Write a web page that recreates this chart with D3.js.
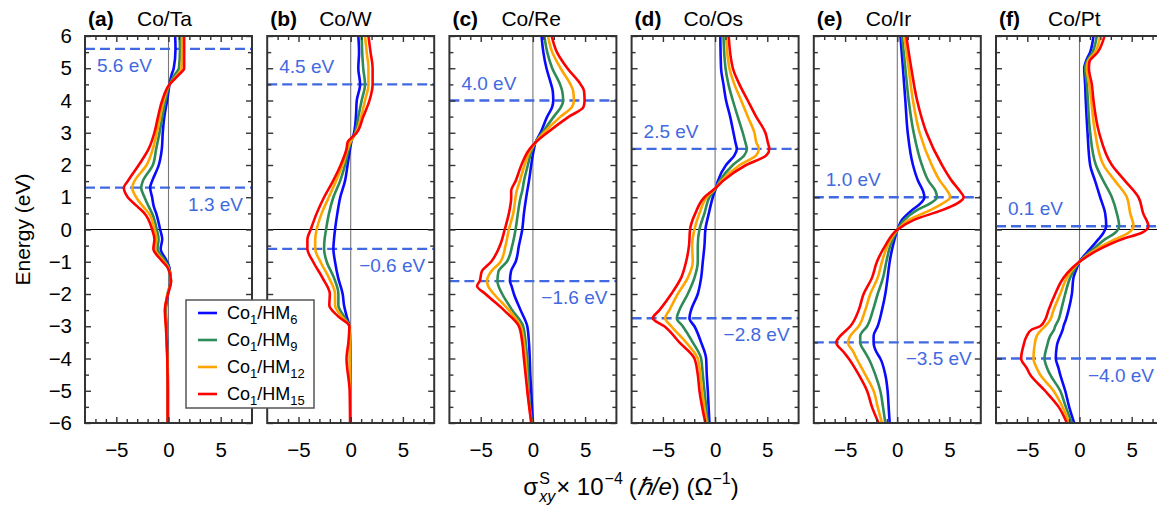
<!DOCTYPE html>
<html>
<head>
<meta charset="utf-8">
<script src="https://cdn.jsdelivr.net/npm/d3@7"></script>
<style>
  body { margin: 0; background: #fff; }
  svg { font-family: "Liberation Sans", Arial, sans-serif; }
</style>
</head>
<body>
<svg id="chart" width="1157" height="507"></svg>
<script>
// panel titles
var panelTags = ["(a)", "(b)", "(c)", "(d)", "(e)", "(f)"];
var panelNames = ["Co/Ta", "Co/W", "Co/Re", "Co/Os", "Co/Ir", "Co/Pt"];
// legend: Co1/HM_n
var layerCounts = ["6", "9", "12", "15"];

// Co/Ta  (energy in eV, sigma in 1e4 hbar/e Ohm^-1)
var taE  = [6, 5.6, 5.0, 4.8, 4.5, 4.0, 3.5, 3.0, 2.5, 2.0, 1.5, 1.3, 1.0, 0.7, 0.5, 0.0, -0.3, -0.6, -0.95, -1.2, -1.6, -2.0, -2.5, -3.0, -4.0, -5.0, -6.0];
var ta6  = [0.64, 0.67, 0.5, 0.3, 0.1, -0.13, -0.4, -0.55, -0.64, -0.93, -1.57, -1.76, -1.57, -1.4, -1.18, -0.8, -0.6, -0.75, -0.22, 0.1, 0.2, -0.05, -0.25, -0.2, -0.1, -0.06, -0.06];
var ta9  = [1.05, 1.1, 1.0, 0.6, 0.1, -0.29, -0.58, -0.86, -1.18, -1.5, -2.46, -2.62, -2.3, -1.88, -1.57, -1.12, -0.95, -1.05, -0.38, 0.05, 0.22, -0.1, -0.3, -0.22, -0.1, -0.06, -0.06];
var ta12 = [1.3, 1.3, 1.25, 0.85, 0.1, -0.45, -0.8, -1.12, -1.5, -2.1, -3.26, -3.48, -3.1, -2.4, -1.88, -1.34, -1.15, -1.3, -0.55, 0.0, 0.24, -0.08, -0.32, -0.24, -0.11, -0.07, -0.07];
var ta15 = [1.5, 1.5, 1.5, 1.0, 0.1, -0.6, -1.0, -1.35, -1.9, -2.85, -3.9, -4.28, -3.9, -2.94, -2.3, -1.57, -1.35, -1.45, -0.7, -0.05, 0.25, -0.05, -0.35, -0.25, -0.12, -0.08, -0.08];

// Co/W
var wE  = [6, 5.5, 5.0, 4.5, 4.0, 3.5, 3.0, 2.7, 2.5, 2.0, 1.5, 1.0, 0.5, 0.0, -0.3, -0.6, -1.0, -1.5, -2.0, -2.35, -2.7, -3.0, -3.5, -4.0, -5.0, -6.0];
var w6  = [0.73, 0.8, 0.73, 0.9, 0.58, 0.5, 0.32, 0.05, -0.06, -0.3, -0.55, -1.0, -1.28, -1.5, -1.6, -1.66, -1.5, -1.2, -0.77, -0.64, -0.38, -0.13, -0.06, -0.05, -0.03, -0.03];
var w9  = [1.05, 1.1, 1.2, 1.37, 1.05, 0.73, 0.42, 0.0, -0.19, -0.54, -1.02, -1.66, -2.08, -2.36, -2.5, -2.55, -2.3, -1.6, -1.18, -1.18, -0.64, -0.13, -0.06, -0.05, -0.03, -0.03];
var w12 = [1.37, 1.53, 1.7, 1.7, 1.37, 1.0, 0.51, -0.05, -0.29, -0.77, -1.41, -2.1, -2.78, -3.26, -3.4, -3.4, -2.9, -2.08, -1.5, -1.5, -0.86, -0.13, -0.1, -0.1, -0.05, -0.03];
var w15 = [1.7, 1.9, 2.1, 2.1, 1.8, 1.2, 0.58, -0.3, -0.4, -0.96, -1.7, -2.55, -3.26, -3.83, -4.15, -4.15, -3.6, -2.7, -2.0, -2.05, -1.18, -0.13, -0.22, -0.4, -0.1, -0.06];

// Co/Re
var reE  = [6, 5.5, 5.0, 4.5, 4.3, 4.0, 3.8, 3.5, 3.0, 2.7, 2.5, 2.0, 1.5, 1.2, 1.0, 0.5, 0.0, -0.5, -1.0, -1.3, -1.6, -1.75, -2.0, -2.5, -3.0, -3.5, -4.0, -4.5, -5.0, -6.0];
var re6  = [0.83, 1.0, 1.3, 1.75, 1.9, 1.95, 1.85, 1.37, 0.73, 0.25, 0.1, -0.16, -0.38, -0.54, -0.64, -0.86, -1.02, -1.34, -1.65, -2.1, -2.2, -2.05, -1.82, -1.18, -0.54, -0.38, -0.3, -0.25, -0.16, 0.0];
var re9  = [1.1, 1.37, 1.85, 2.6, 2.8, 2.9, 2.7, 2.0, 0.9, 0.25, -0.06, -0.48, -0.86, -1.02, -1.18, -1.44, -1.66, -1.98, -2.5, -3.3, -3.4, -3.3, -2.94, -1.98, -0.93, -0.7, -0.54, -0.45, -0.4, -0.1];
var re12 = [1.44, 1.85, 2.65, 3.6, 3.85, 3.93, 3.75, 2.65, 1.05, 0.25, -0.16, -0.8, -1.25, -1.55, -1.66, -1.88, -2.3, -2.62, -3.1, -4.0, -4.4, -4.3, -3.74, -2.3, -1.18, -0.86, -0.7, -0.6, -0.5, -0.13];
var re15 = [1.8, 2.3, 3.3, 4.57, 4.9, 4.95, 4.85, 3.45, 1.37, 0.25, -0.3, -1.1, -1.66, -2.08, -2.08, -2.3, -2.7, -3.16, -4.0, -4.9, -5.1, -5.35, -4.54, -2.78, -1.34, -1.02, -0.86, -0.7, -0.54, -0.16];

// Co/Os
var osE  = [6, 5, 4.5, 4, 3.5, 3, 2.7, 2.5, 2.3, 2.0, 1.5, 1.3, 1.0, 0.5, 0, -0.5, -1.0, -1.5, -2.0, -2.5, -2.75, -3.0, -3.5, -4.0, -4.5, -5.0, -6.0];
var os6  = [0.5, 0.57, 0.8, 1.05, 1.44, 1.76, 1.95, 2.08, 1.85, 1.05, 0.26, 0.1, -0.22, -0.6, -0.93, -1.02, -1.18, -1.34, -1.66, -2.3, -2.46, -1.98, -1.34, -0.86, -0.8, -0.7, -0.54];
var os9  = [0.8, 1.0, 1.28, 1.7, 2.17, 2.65, 2.9, 3.04, 2.8, 1.7, 0.42, 0.1, -0.54, -1.02, -1.5, -1.66, -1.66, -1.98, -2.62, -3.42, -3.67, -3.1, -2.14, -1.34, -1.18, -1.02, -0.7];
var os12 = [1.05, 1.37, 1.85, 2.5, 3.13, 3.77, 3.95, 4.19, 3.93, 2.36, 0.58, 0.1, -0.8, -1.5, -1.98, -2.2, -2.14, -2.62, -3.58, -4.38, -4.79, -4.2, -2.78, -1.66, -1.41, -1.25, -0.8];
var os15 = [1.3, 1.7, 2.33, 3.13, 3.93, 4.82, 5.05, 5.2, 4.9, 2.97, 0.73, 0.1, -1.02, -1.9, -2.4, -2.5, -2.78, -3.26, -4.2, -5.33, -5.97, -4.86, -3.42, -1.98, -1.66, -1.5, -0.93];

// Co/Ir
var irE  = [6, 5, 4, 3, 2, 1.5, 1.2, 1.0, 0.8, 0.6, 0.3, 0.0, -0.5, -1.0, -1.5, -2.0, -2.5, -3.0, -3.3, -3.5, -3.8, -4.0, -4.5, -5.0, -5.5, -6.0];
var ir6  = [0.3, 0.54, 0.77, 1.0, 1.5, 2.0, 2.46, 2.6, 2.2, 1.4, 0.45, 0.03, -0.42, -0.73, -0.93, -1.15, -1.47, -1.88, -2.27, -2.27, -2.0, -1.63, -1.15, -0.93, -0.83, -0.73];
var ir9  = [0.45, 0.77, 1.09, 1.57, 2.36, 3.0, 3.65, 3.8, 3.1, 1.88, 0.67, 0.03, -0.67, -1.05, -1.37, -1.88, -2.33, -2.9, -3.55, -3.55, -3.1, -2.75, -2.11, -1.63, -1.37, -1.15];
var ir12 = [0.67, 1.09, 1.5, 2.14, 3.3, 4.1, 4.79, 5.08, 4.3, 3.16, 1.1, 0.03, -0.93, -1.47, -1.88, -2.59, -3.07, -3.7, -4.5, -4.73, -4.2, -3.9, -3.07, -2.27, -1.88, -1.47];
var ir15 = [0.86, 1.34, 1.9, 2.8, 4.28, 5.24, 5.97, 6.36, 5.7, 4.3, 1.6, 0.03, -1.15, -1.95, -2.43, -3.23, -3.7, -4.5, -5.46, -5.85, -5.14, -4.66, -3.7, -2.9, -2.43, -1.79];

// Co/Pt
var ptE  = [6, 5.5, 5.2, 5.0, 4.5, 4.0, 3.0, 2.0, 1.5, 1.0, 0.5, 0.1, -0.1, -0.3, -0.6, -1.0, -1.2, -1.5, -2.0, -2.5, -2.8, -3.0, -3.1, -3.3, -3.6, -4.0, -4.3, -4.5, -5.0, -5.5, -6.0];
var pt6  = [1.34, 1.02, 0.6, 0.45, 0.54, 0.6, 0.77, 1.02, 1.5, 1.98, 2.46, 2.56, 2.3, 1.82, 1.02, 0.0, -0.26, -0.58, -0.73, -1.05, -1.31, -1.53, -1.6, -1.85, -2.17, -2.27, -2.01, -1.85, -1.37, -0.99, -0.51];
var pt9  = [1.66, 1.25, 0.7, 0.54, 0.7, 0.8, 1.02, 1.57, 2.3, 3.1, 3.58, 3.8, 3.42, 2.46, 1.34, 0.0, -0.42, -0.9, -1.37, -1.76, -2.01, -2.33, -2.43, -2.81, -3.1, -3.35, -3.1, -2.81, -1.85, -1.31, -0.73];
var pt12 = [1.98, 1.5, 0.8, 0.7, 0.93, 1.12, 1.5, 2.3, 3.42, 4.54, 4.86, 5.18, 4.7, 3.42, 1.66, 0.0, -0.58, -1.21, -1.85, -2.49, -2.81, -3.29, -3.61, -4.09, -4.31, -4.41, -4.09, -3.77, -2.49, -1.63, -0.99];
var pt15 = [2.4, 1.75, 0.95, 0.9, 1.18, 1.34, 1.88, 3.1, 4.38, 5.65, 6.1, 6.6, 5.97, 4.06, 1.98, 0.0, -0.73, -1.53, -2.33, -2.97, -3.3, -3.77, -4.57, -5.05, -5.37, -5.59, -5.05, -4.73, -3.3, -2.0, -1.21];

// dashed marker energies and their labels
var markE = [[5.6, 1.3], [4.5, -0.6], [4.0, -1.6], [2.5, -2.75], [1.0, -3.5], [0.1, -4.0]];
var markText = [["5.6 eV", "1.3 eV"], ["4.5 eV", "\u22120.6 eV"], ["4.0 eV", "\u22121.6 eV"],
                ["2.5 eV", "\u22122.8 eV"], ["1.0 eV", "\u22123.5 eV"], ["0.1 eV", "\u22124.0 eV"]];

var energies = [taE, wE, reE, osE, irE, ptE];
var sigmas = [[ta6, ta9, ta12, ta15], [w6, w9, w12, w15], [re6, re9, re12, re15],
              [os6, os9, os12, os15], [ir6, ir9, ir12, ir15], [pt6, pt9, pt12, pt15]];

var colors = ["#0a0aff", "#2e8b57", "#ffa500", "#ff0000"];
var markColor = "#4169e1";

// layout
var top0 = 36, bottom0 = 423, left0 = 85, panelW = 167, panelStep = 182.2;

var svg = d3.select("#chart");
var y = d3.scaleLinear().domain([-6, 6]).range([bottom0, top0]);

function tickAxis(g, axis, tx, ty) {
    var a = g.append("g").attr("transform", "translate(" + tx + "," + ty + ")").call(axis);
    a.select(".domain").remove();
    a.selectAll("line").attr("stroke", "#333").attr("stroke-width", 1.4);
    a.selectAll("text").attr("fill", "#000").style("font-size", "20.5px")
        .style("font-family", "'Liberation Sans', Arial, sans-serif");
    return a;
}

var yMajor = d3.range(-6, 6.01, 1);
var yMinor = d3.range(-5.5, 6, 1);
var xMajor = [-5, 0, 5];
var xMinor = d3.range(-7, 8, 1).filter(function (v) { return v % 5 !== 0; });

panelNames.forEach(function (name, i) {
    var x0 = left0 + i * panelStep;
    var x = d3.scaleLinear().domain([-8, 8]).range([x0, x0 + panelW]);
    var g = svg.append("g");

    svg.append("clipPath").attr("id", "clip" + i).append("rect")
        .attr("x", x0).attr("y", top0).attr("width", panelW).attr("height", bottom0 - top0);

    // zero lines
    g.append("line").attr("x1", x(0)).attr("x2", x(0)).attr("y1", top0).attr("y2", bottom0)
        .attr("stroke", "#777").attr("stroke-width", 1.1);
    g.append("line").attr("x1", x0).attr("x2", x0 + panelW).attr("y1", y(0)).attr("y2", y(0))
        .attr("stroke", "#000").attr("stroke-width", 1);

    // dashed markers
    g.selectAll(".mark").data(markE[i]).enter().append("line")
        .attr("x1", x0).attr("x2", x0 + panelW)
        .attr("y1", function (d) { return y(d); }).attr("y2", function (d) { return y(d); })
        .attr("stroke", markColor).attr("stroke-width", 2.4).attr("stroke-dasharray", "10,5");

    // curves, blue first so red ends on top
    var line = d3.line()
        .x(function (d) { return x(d[1]); })
        .y(function (d) { return y(d[0]); })
        .curve(d3.curveMonotoneY);
    var cg = g.append("g").attr("clip-path", "url(#clip" + i + ")");
    sigmas[i].forEach(function (s, k) {
        var pts = energies[i].map(function (e, j) { return [e, s[j]]; });
        cg.append("path").attr("d", line(pts)).attr("fill", "none")
            .attr("stroke", colors[k]).attr("stroke-width", 2.6).attr("stroke-linejoin", "round");
    });

    // marker labels: upper one left, lower one right
    var upY = i === 0 ? y(markE[i][0]) + 23 : y(markE[i][0]) - 11;
    g.append("text").attr("x", x0 + 12).attr("y", upY).attr("fill", markColor)
        .style("font-size", "19px").text(markText[i][0]);
    g.append("text").attr("x", x0 + panelW - 9).attr("y", y(markE[i][1]) + 23)
        .attr("text-anchor", "end").attr("fill", markColor)
        .style("font-size", "19px").text(markText[i][1]);

    // frame
    g.append("rect").attr("x", x0).attr("y", top0).attr("width", panelW).attr("height", bottom0 - top0)
        .attr("fill", "none").attr("stroke", "#333").attr("stroke-width", 2);

    // inward ticks
    tickAxis(g, d3.axisLeft(y).tickValues(yMajor).tickSize(-6).tickPadding(13)
        .tickFormat(i === 0 ? d3.format("d") : ""), x0, 0);
    tickAxis(g, d3.axisLeft(y).tickValues(yMinor).tickSize(-4).tickFormat(""), x0, 0);
    tickAxis(g, d3.axisRight(y).tickValues(yMajor).tickSize(-6).tickFormat(""), x0 + panelW, 0);
    tickAxis(g, d3.axisRight(y).tickValues(yMinor).tickSize(-4).tickFormat(""), x0 + panelW, 0);
    tickAxis(g, d3.axisBottom(x).tickValues(xMajor).tickSize(-6).tickPadding(19).tickFormat(d3.format("d")), 0, bottom0);
    tickAxis(g, d3.axisBottom(x).tickValues(xMinor).tickSize(-4).tickFormat(""), 0, bottom0);
    tickAxis(g, d3.axisTop(x).tickValues(xMajor).tickSize(-6).tickFormat(""), 0, top0);
    tickAxis(g, d3.axisTop(x).tickValues(xMinor).tickSize(-4).tickFormat(""), 0, top0);

    // title
    g.append("text").attr("x", x0 + 3).attr("y", 26).style("font-size", "21px")
        .style("font-weight", "bold").text(panelTags[i]);
    g.append("text").attr("x", x0 + 52).attr("y", 26).style("font-size", "21px").text(name);
});

// y label
svg.append("text").attr("transform", "translate(30," + y(0) + ") rotate(-90)")
    .attr("text-anchor", "middle").style("font-size", "21px").text("Energy (eV)");

// x label, built piece by piece
var xl = svg.append("g");
var cx = 0;
function piece(str, size, dy, italic) {
    var t = xl.append("text").attr("x", cx).attr("y", dy).style("font-size", size + "px").text(str);
    if (italic) t.style("font-style", "italic");
    return t.node().getComputedTextLength();
}
cx += piece("\u03c3", 24, 0) + 1;
var wS = piece("S", 16, -11);
var wXY = piece("xy", 16, 7, true);
cx += Math.max(wS, wXY) + 1;
cx += piece("\u00d7 10", 24, 0) + 1;
cx += piece("\u22124", 16, -11) + 6;
cx += piece("(", 24, 0);
cx += piece("\u210f/e", 24, 0, true);
cx += piece(") (\u03a9", 24, 0);
cx += piece("\u22121", 16, -11);
cx += piece(")", 24, 0);
xl.attr("transform", "translate(" + (631 - cx / 2) + ",495)");

// legend
var lg = svg.append("g");
lg.append("rect").attr("x", 186).attr("y", 300).attr("width", 128).attr("height", 108)
    .attr("fill", "#fff").attr("stroke", "#555").attr("stroke-width", 1.5);
layerCounts.forEach(function (n, k) {
    var ly = 313 + k * 27;
    lg.append("line").attr("x1", 198).attr("x2", 217).attr("y1", ly).attr("y2", ly)
        .attr("stroke", colors[k]).attr("stroke-width", 2.6);
    var t = lg.append("text").attr("x", 227).attr("y", ly + 6).style("font-size", "18px");
    t.append("tspan").text("Co");
    t.append("tspan").attr("dy", 5).style("font-size", "13px").text("1");
    t.append("tspan").attr("dy", -5).text("/HM");
    t.append("tspan").attr("dy", 5).style("font-size", "13px").text(n);
});
</script>
</body>
</html>
